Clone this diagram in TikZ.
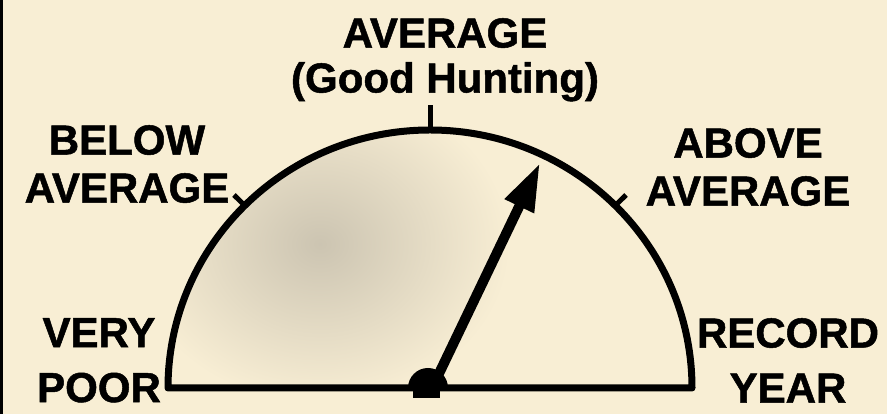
\documentclass[tikz,border=0pt]{standalone}
\usepackage{fontspec}
\setmainfont[FakeBold=1.2]{Liberation Sans}
\usetikzlibrary{arrows,arrows.meta,calc}
\definecolor{paper}{RGB}{248,238,212}
\definecolor{speck}{RGB}{150,145,135}

\begin{document}
\begin{tikzpicture}[x=1pt,y=1pt,
  lbl/.style={font=\bfseries\fontsize{42}{48}\selectfont,align=center,inner sep=0pt}]
\useasboundingbox[fill=paper] (0,0) rectangle (887,414);
\coordinate[] (O) at (430,26);
\coordinate[] (L) at (168,26);
\coordinate[] (R) at (692,26);
\coordinate[] (T) at (430,284);
\coordinate[] (T1) at (430,309);
\coordinate[] (P) at (244.7,208.4);
\coordinate[] (P1) at (234,219);
\coordinate[] (Q) at (615.3,208.4);
\coordinate[] (Q1) at (626,219);
\coordinate[] (H) at (434,30);
\coordinate[] (N) at (540,251);

% dial face
\begin{scope}
\clip (L) arc[start angle=180,end angle=0,x radius=262,y radius=258] -- cycle;
\shade[inner color=speck!45!paper, outer color=paper] (320,170) ellipse (190 and 160);
\end{scope}
\draw [line width=7pt,line join=round] (L) arc[start angle=180,end angle=0,x radius=262,y radius=258] -- cycle;
\draw [line width=5pt] (T) -- (T1);
\draw [line width=5pt] (P) -- (P1);
\draw [line width=5pt] (Q) -- (Q1);
\fill[black] (0,0) rectangle (3,414);

% needle
\draw [line width=10pt,-{Triangle[length=48pt,width=30pt]}] (H) -- (N);
\fill (408,26) arc[start angle=180,end angle=0,radius=20] -- cycle;
\fill (413,16) rectangle (440,26);

% labels
\node[lbl,anchor=north,font=\bfseries\fontsize{42}{45}\selectfont] (avg) at (445,396) {AVERAGE\\(Good Hunting)};
\node[lbl,anchor=north] (below) at (127,289) {BELOW\\AVERAGE};
\node[lbl,anchor=north] (above) at (748,286) {ABOVE\\AVERAGE};
\node[lbl,anchor=north,font=\bfseries\fontsize{42}{55}\selectfont] (poor) at (99,96) {VERY\\POOR};
\node[lbl,anchor=north,font=\bfseries\fontsize{42}{55}\selectfont] (record) at (788,96) {RECORD\\YEAR};
\end{tikzpicture}
\end{document}
